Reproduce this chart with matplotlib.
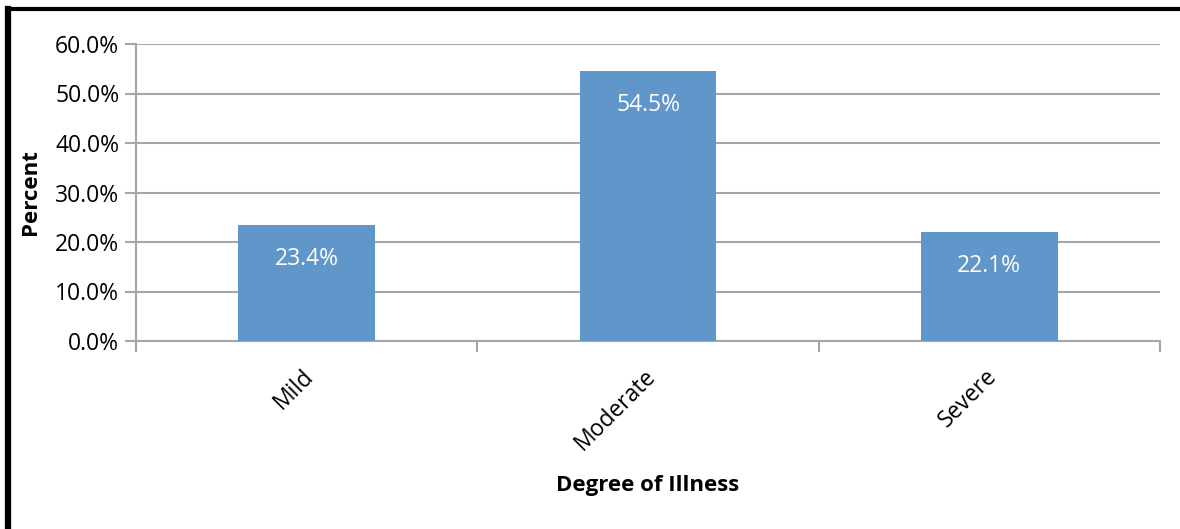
import matplotlib
matplotlib.use("Agg")
import matplotlib.pyplot as plt
from matplotlib.lines import Line2D

categories = ["Mild", "Moderate", "Severe"]
percents = [23.4, 54.5, 22.1]
yticks = [0, 10, 20, 30, 40, 50, 60]

plt.rcParams['font.family'] = ['Open Sans', 'DejaVu Sans']

W, H = 1180, 529
fig = plt.figure(figsize=(W / 100, H / 100), dpi=100)
ax = fig.add_axes([136 / W, 1 - 341 / H, (1160 - 136) / W, (341 - 44) / H])

grid_c = "#A6A6A6"
bar_c = "#6196CA"
fs = 16.5

x = list(range(len(categories)))
ax.bar(x, percents, width=0.4, color=bar_c, zorder=3)
for xi, v in zip(x, percents):
    ax.annotate(f"{v:.1f}%", (xi, v), xytext=(0, -34), textcoords="offset pixels",
                ha="center", va="center", color="white", fontsize=fs, zorder=4)

ax.set_xlim(-0.5, len(categories) - 0.5)
ax.set_ylim(0, 60)
ax.set_yticks(yticks)
ax.set_yticklabels([f"{t:.1f}%" for t in yticks], fontsize=fs)
ax.yaxis.grid(True, color=grid_c, linewidth=1.5, zorder=0)
ax.set_axisbelow(True)

for s in ["top", "right"]:
    ax.spines[s].set_visible(False)
for s in ["left", "bottom"]:
    ax.spines[s].set_color(grid_c)
    ax.spines[s].set_linewidth(1.5)

ax.tick_params(axis="y", length=8, width=1.5, color=grid_c, pad=4)
ax.set_xticks([-0.5, 0.5, 1.5, 2.5])
ax.set_xticklabels([])
ax.tick_params(axis="x", length=8, width=1.5, color=grid_c)

# category names, rotated 45 degrees, ending at category centre
for xi, name in zip(x, categories):
    ax.annotate(name, (xi, 0), xytext=(4, -32), textcoords="offset pixels",
                rotation=45, rotation_mode="anchor", ha="right", va="center",
                fontsize=fs)

fig.text(30 / W, 1 - 192 / H, "Percent", rotation=90, ha="center", va="center",
         fontsize=16, fontweight="bold")
fig.text(648 / W, 1 - 485 / H, "Degree of Illness", ha="center", va="center",
         fontsize=16, fontweight="bold")

# outer frame (left and top edges)
fig.add_artist(Line2D([8 / W, 8 / W], [0, 1 - 8.5 / H], color="black", linewidth=4.5,
                      transform=fig.transFigure, solid_capstyle="projecting"))
fig.add_artist(Line2D([8 / W, 1], [1 - 8.5 / H, 1 - 8.5 / H], color="black", linewidth=3,
                      transform=fig.transFigure, solid_capstyle="projecting"))

fig.savefig("out.png", dpi=100)
